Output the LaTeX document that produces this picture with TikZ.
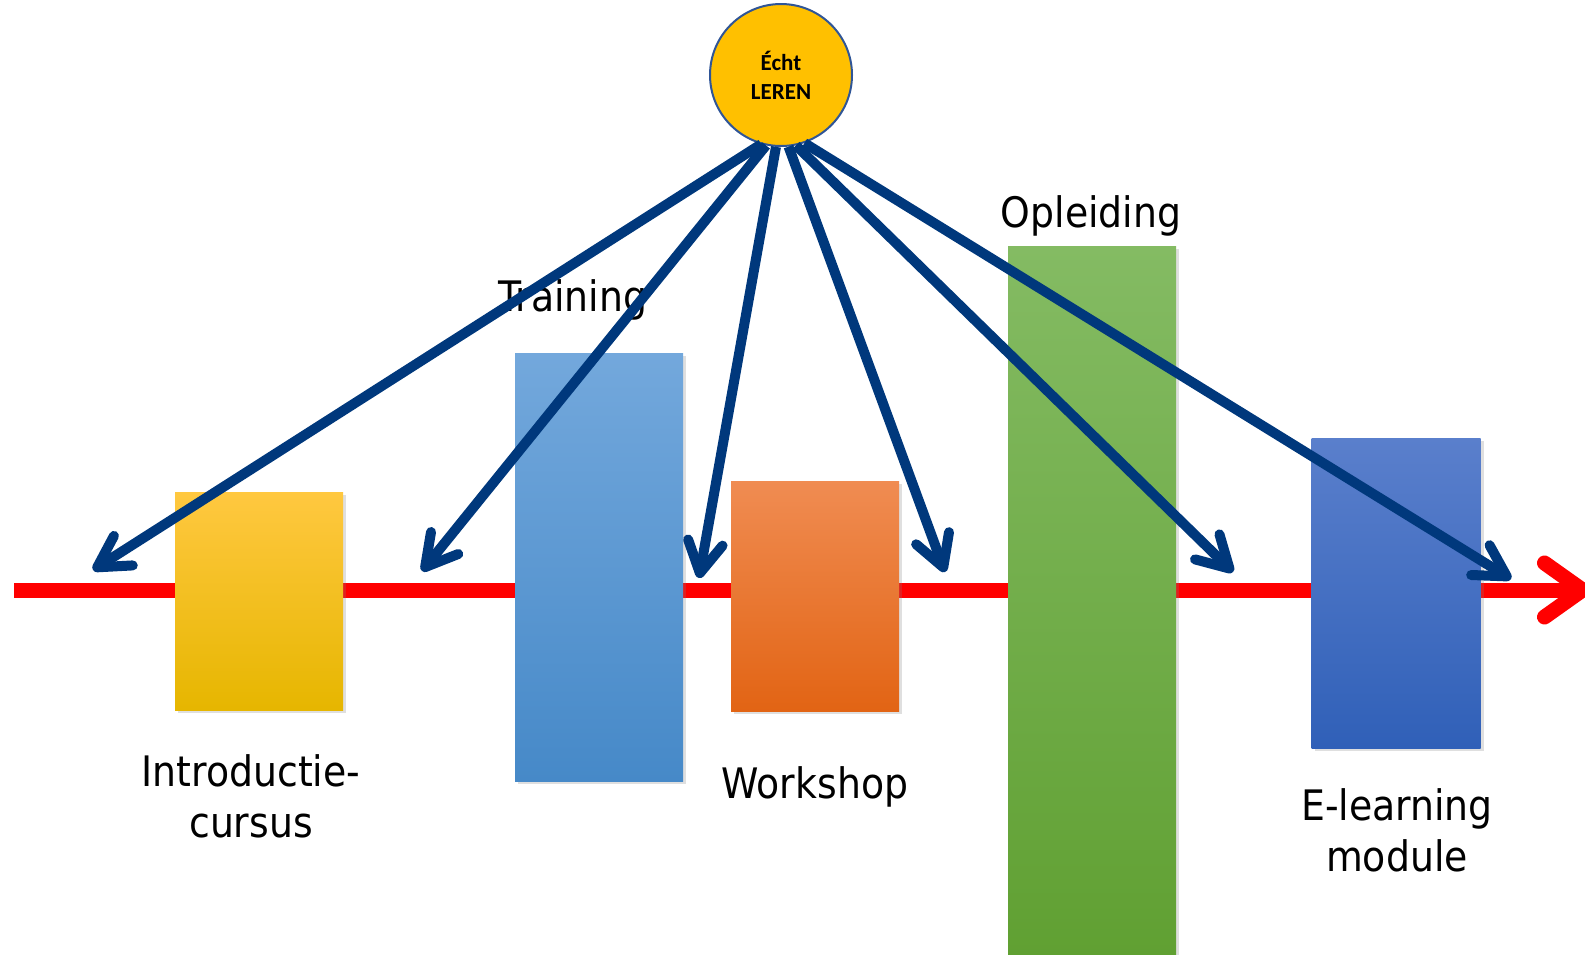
\documentclass[tikz,border=0pt]{standalone}
\usepackage{fontspec}
\setmainfont{DejaVu Sans Condensed}
\newfontfamily\calibri{Carlito}
\usetikzlibrary{arrows.meta,shadows}

\definecolor{navy}{RGB}{0,56,124}
\definecolor{ringblue}{RGB}{47,85,151}
\definecolor{gold}{RGB}{255,192,0}

\tikzset{
  bar/.style={rectangle,inner sep=0pt,minimum width=168pt,
    drop shadow={shadow xshift=3pt,shadow yshift=-3pt,opacity=.25}},
  tag/.style={align=center,inner sep=0pt,font=\fontsize{42}{51}\selectfont},
  learn/.style={draw=navy,line width=10pt,-{Straight Barb[round,length=31pt,width=35pt]}},
  timeline/.style={draw=red,line width=15pt,-{Straight Barb[round,length=38pt,width=54pt]}}
}

\begin{document}
\begin{tikzpicture}[x=1pt,y=-1pt]
\useasboundingbox (0,0) rectangle (1585,954);

% tijdlijn
\coordinate (tl0) at (14,590);
\coordinate (tl1) at (1590,590);
\draw[timeline] (tl0) -- (tl1);

% blokken
\node[bar,minimum height=218pt,top color={rgb,255:red,255;green,200;blue,64},middle color=gold,bottom color={rgb,255:red,230;green,182;blue,0}] (intro) at (259,601) {};
\node[bar,minimum height=428pt,top color={rgb,255:red,115;green,168;blue,220},middle color={rgb,255:red,91;green,155;blue,213},bottom color={rgb,255:red,70;green,137;blue,200}] (train) at (599,567) {};
\node[bar,minimum height=230pt,top color={rgb,255:red,240;green,140;blue,82},middle color={rgb,255:red,245;green,124;blue,35},bottom color={rgb,255:red,226;green,100;blue,20}] (work) at (815,596) {};
\node[bar,minimum height=712pt,top color={rgb,255:red,132;green,187;blue,99},middle color={rgb,255:red,112;green,173;blue,71},bottom color={rgb,255:red,96;green,160;blue,50}] (opl) at (1092,602) {};
\node[bar,minimum height=310pt,minimum width=169pt,top color={rgb,255:red,90;green,127;blue,204},middle color={rgb,255:red,68;green,114;blue,196},bottom color={rgb,255:red,48;green,96;blue,184}] (elearn) at (1396,593) {};

% teksten
\node[tag] (tintro) at (251,796) {Introductie-\\cursus};
\node[tag] (ttrain) at (573,300) {Training};
\node[tag] (twork) at (815,787) {Workshop};
\node[tag] (topl) at (1091,216) {Opleiding};
\node[tag] (telearn) at (1397,830) {E-learning\\module};

% echt leren
\node[circle,draw=ringblue,line width=2pt,fill=gold,minimum size=142pt,inner sep=0pt,
  align=center,font=\calibri\bfseries\fontsize{23}{29}\selectfont] (leren) at (781,75) {Écht\\LEREN};

\coordinate (p1) at (93,570);
\coordinate (p2) at (422,571);
\coordinate (p3) at (699,578);
\coordinate (p4) at (945,572);
\coordinate (p5) at (1233,572);
\coordinate (p6) at (1511,579);

\draw[learn] (leren.-106.7) -- (p1);
\draw[learn] (leren.-102.9) -- (p2);
\draw[learn] (leren.-94.7) -- (p3);
\draw[learn] (leren.-84.5) -- (p4);
\draw[learn] (leren.-78.7) -- (p5);
\draw[learn] (leren.-71.8) -- (p6);
\end{tikzpicture}
\end{document}
